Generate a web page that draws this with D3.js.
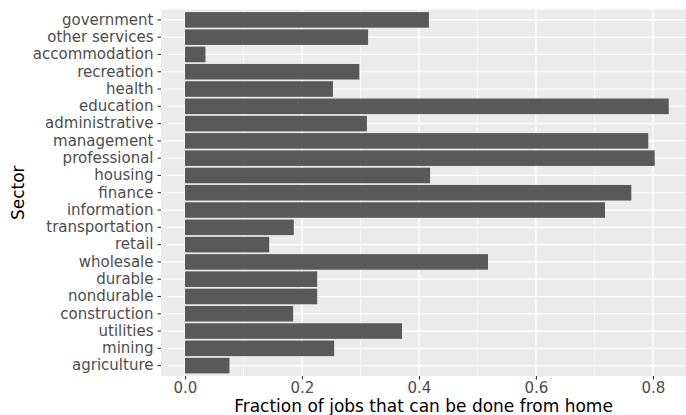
<!DOCTYPE html>
<html>
<head>
<meta charset="utf-8">
<script src="https://cdn.jsdelivr.net/npm/d3@7"></script>
<style>
  html, body { margin: 0; padding: 0; background: #ffffff; }
  svg { display: block; }
</style>
</head>
<body>
<svg id="chart" width="686" height="415"></svg>
<script>
// ---- data (top = first) ----
const sectors = [
  "government", "other services", "accommodation", "recreation", "health",
  "education", "administrative", "management", "professional", "housing",
  "finance", "information", "transportation", "retail", "wholesale",
  "durable", "nondurable", "construction", "utilities", "mining", "agriculture"
];
const fractions = [
  0.417, 0.313, 0.035, 0.298, 0.253,
  0.827, 0.311, 0.792, 0.803, 0.419,
  0.763, 0.718, 0.186, 0.144, 0.518,
  0.226, 0.226, 0.185, 0.371, 0.255, 0.076
];
const xTicks = [0, 0.2, 0.4, 0.6, 0.8];
const xMinor = [0.1, 0.3, 0.5, 0.7];
const xTitle = "Fraction of jobs that can be done from home";
const yTitle = "Sector";

const data = sectors.map((s, i) => ({ sector: s, value: fractions[i] }));

const svg = d3.select("#chart");
const panel = { left: 161, right: 686, top: 9.5, bottom: 376 };

const x = d3.scaleLinear()
  .domain([-0.041, 0.8565])
  .range([panel.left, panel.right]);

const y = d3.scaleBand()
  .domain(sectors)
  .range([panel.top, panel.bottom])
  .paddingInner(0.1)
  .paddingOuter(0.15);

// panel background
svg.append("rect")
  .attr("x", panel.left).attr("y", panel.top)
  .attr("width", panel.right - panel.left)
  .attr("height", panel.bottom - panel.top)
  .attr("fill", "#ebebeb");

const grid = svg.append("g");
// minor x grid
grid.selectAll("line.minor").data(xMinor).enter().append("line")
  .attr("x1", d => x(d)).attr("x2", d => x(d))
  .attr("y1", panel.top).attr("y2", panel.bottom)
  .attr("stroke", "#ffffff").attr("stroke-width", 0.6);
// major x grid
grid.selectAll("line.majx").data(xTicks).enter().append("line")
  .attr("x1", d => x(d)).attr("x2", d => x(d))
  .attr("y1", panel.top).attr("y2", panel.bottom)
  .attr("stroke", "#ffffff").attr("stroke-width", 1.2);
// major y grid
grid.selectAll("line.majy").data(sectors).enter().append("line")
  .attr("x1", panel.left).attr("x2", panel.right)
  .attr("y1", d => y(d) + y.bandwidth() / 2).attr("y2", d => y(d) + y.bandwidth() / 2)
  .attr("stroke", "#ffffff").attr("stroke-width", 1.2);

// bars
svg.append("g").selectAll("rect").data(data).enter().append("rect")
  .attr("x", x(0))
  .attr("y", d => y(d.sector))
  .attr("width", d => x(d.value) - x(0))
  .attr("height", y.bandwidth())
  .attr("fill", "#595959");

// axes
const xAxis = d3.axisBottom(x).tickValues(xTicks).tickFormat(d3.format(".1f"))
  .tickSize(3.5).tickPadding(2.5);
const gx = svg.append("g").attr("transform", `translate(0,${panel.bottom})`).call(xAxis);
gx.select(".domain").remove();
gx.selectAll(".tick line").attr("stroke", "#333333").attr("stroke-width", 1.1);
gx.selectAll(".tick text")
  .attr("fill", "#4d4d4d")
  .style("font-family", "'DejaVu Sans', sans-serif")
  .style("font-size", "15px");

const yAxis = d3.axisLeft(y).tickSize(3.5).tickPadding(4);
const gy = svg.append("g").attr("transform", `translate(${panel.left},0)`).call(yAxis);
gy.select(".domain").remove();
gy.selectAll(".tick line").attr("stroke", "#333333").attr("stroke-width", 1.1);
gy.selectAll(".tick text")
  .attr("fill", "#4d4d4d")
  .style("font-family", "'DejaVu Sans', sans-serif")
  .style("font-size", "15px");

// axis titles
svg.append("text")
  .attr("x", (panel.left + panel.right) / 2)
  .attr("y", 411.5)
  .attr("text-anchor", "middle")
  .attr("fill", "#000000")
  .style("font-family", "'DejaVu Sans', sans-serif")
  .style("font-size", "17px")
  .text(xTitle);

svg.append("text")
  .attr("transform", `translate(23.5,${(panel.top + panel.bottom) / 2}) rotate(-90)`)
  .attr("text-anchor", "middle")
  .attr("fill", "#000000")
  .style("font-family", "'DejaVu Sans', sans-serif")
  .style("font-size", "17px")
  .text(yTitle);
</script>
</body>
</html>
